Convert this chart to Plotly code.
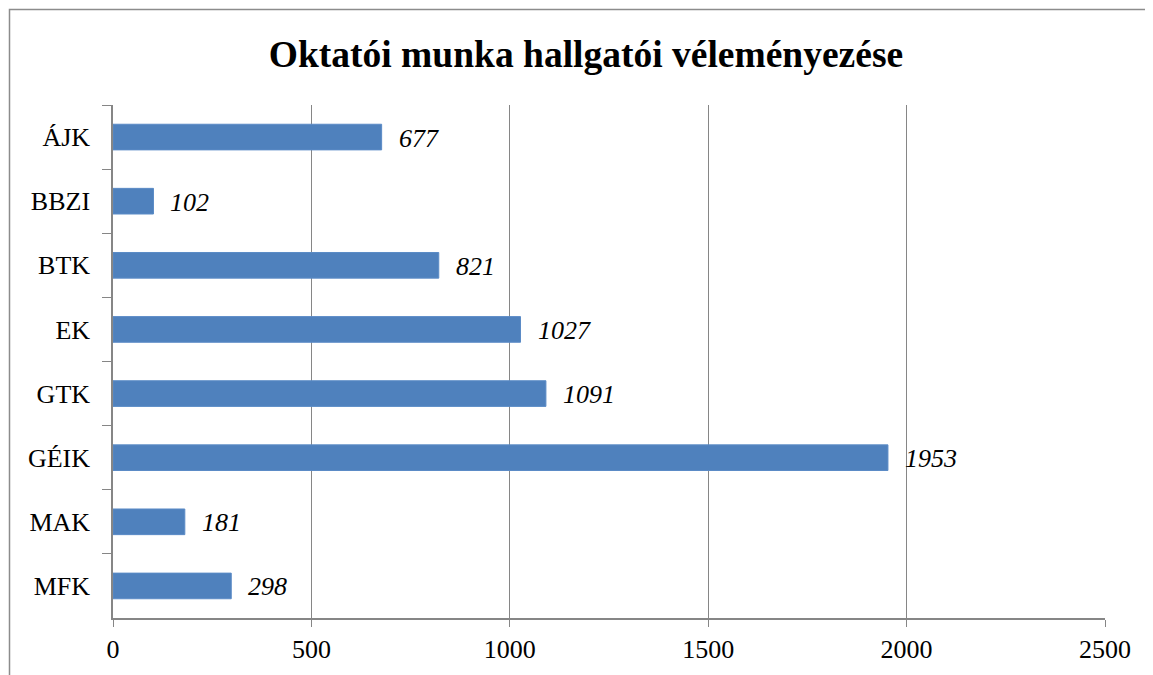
import plotly.graph_objects as go

categories = ["ÁJK", "BBZI", "BTK", "EK", "GTK", "GÉIK", "MAK", "MFK"]
values = [677, 102, 821, 1027, 1091, 1953, 181, 298]
x_ticks = [0, 500, 1000, 1500, 2000, 2500]

FONT = "Liberation Serif, Times New Roman, serif"
GRID = "#868686"

fig = go.Figure()
fig.add_trace(go.Bar(
    y=categories, x=values, orientation="h",
    marker=dict(color="#4F81BD", line=dict(color="#5B8BC6", width=1)),
    width=0.4, hoverinfo="x+y",
))

for c, v in zip(categories, values):
    fig.add_annotation(x=v, y=c, text=f"<i>{v}</i>", showarrow=False,
                       xanchor="left", yanchor="middle", xshift=15, yshift=-1,
                       font=dict(family=FONT, size=26, color="black"))

# page has an 8px body margin; figure sized to fit the window
OFF = 8
W, H = 1153 - OFF, 675 - OFF
l, r, t, b = 113 - OFF, 1153 - 1105, 105 - OFF, 675 - 618
pw, ph = W - l - r, H - t - b

def px_to_paper_x(px):
    return (px - OFF - l) / pw

def px_to_paper_y(py):
    return 1 - (py - OFF - t) / ph

fig.add_shape(type="rect", xref="paper", yref="paper",
              x0=px_to_paper_x(9.5), x1=px_to_paper_x(1200),
              y0=px_to_paper_y(720), y1=px_to_paper_y(9.5),
              line=dict(color="#8c8c8c", width=1.5), fillcolor="rgba(0,0,0,0)",
              layer="below")

fig.update_layout(
    width=W, height=H,
    margin=dict(l=l, r=r, t=t, b=b, pad=0),
    paper_bgcolor="white", plot_bgcolor="white",
    showlegend=False,
    title=dict(text="<b>Oktatói munka hallgatói véleményezése</b>",
               x=(586 - OFF) / W, xanchor="center", xref="container",
               y=1 - (54 - OFF) / H, yanchor="middle",
               font=dict(family=FONT, size=37.5, color="black")),
    font=dict(family=FONT, size=26, color="black"),
    xaxis=dict(range=[0, 2500], tickvals=x_ticks, ticktext=[str(v) for v in x_ticks],
               showgrid=True, gridcolor=GRID, gridwidth=1.3,
               showline=True, linecolor=GRID, linewidth=1.5,
               ticks="outside", ticklen=7, tickcolor=GRID, tickwidth=1.3,
               zeroline=False, fixedrange=True,
               tickfont=dict(family=FONT, size=26, color="black")),
    yaxis=dict(categoryorder="array", categoryarray=categories, autorange="reversed",
               showline=True, linecolor=GRID, linewidth=1.5,
               ticks="outside", ticklen=9, tickcolor=GRID, tickwidth=1.3,
               tickson="boundaries", showgrid=False, zeroline=False,
               ticklabelstandoff=16,
               tickfont=dict(family=FONT, size=26, color="black")),
    bargap=0.6,
)

fig.write_html("out.html")
